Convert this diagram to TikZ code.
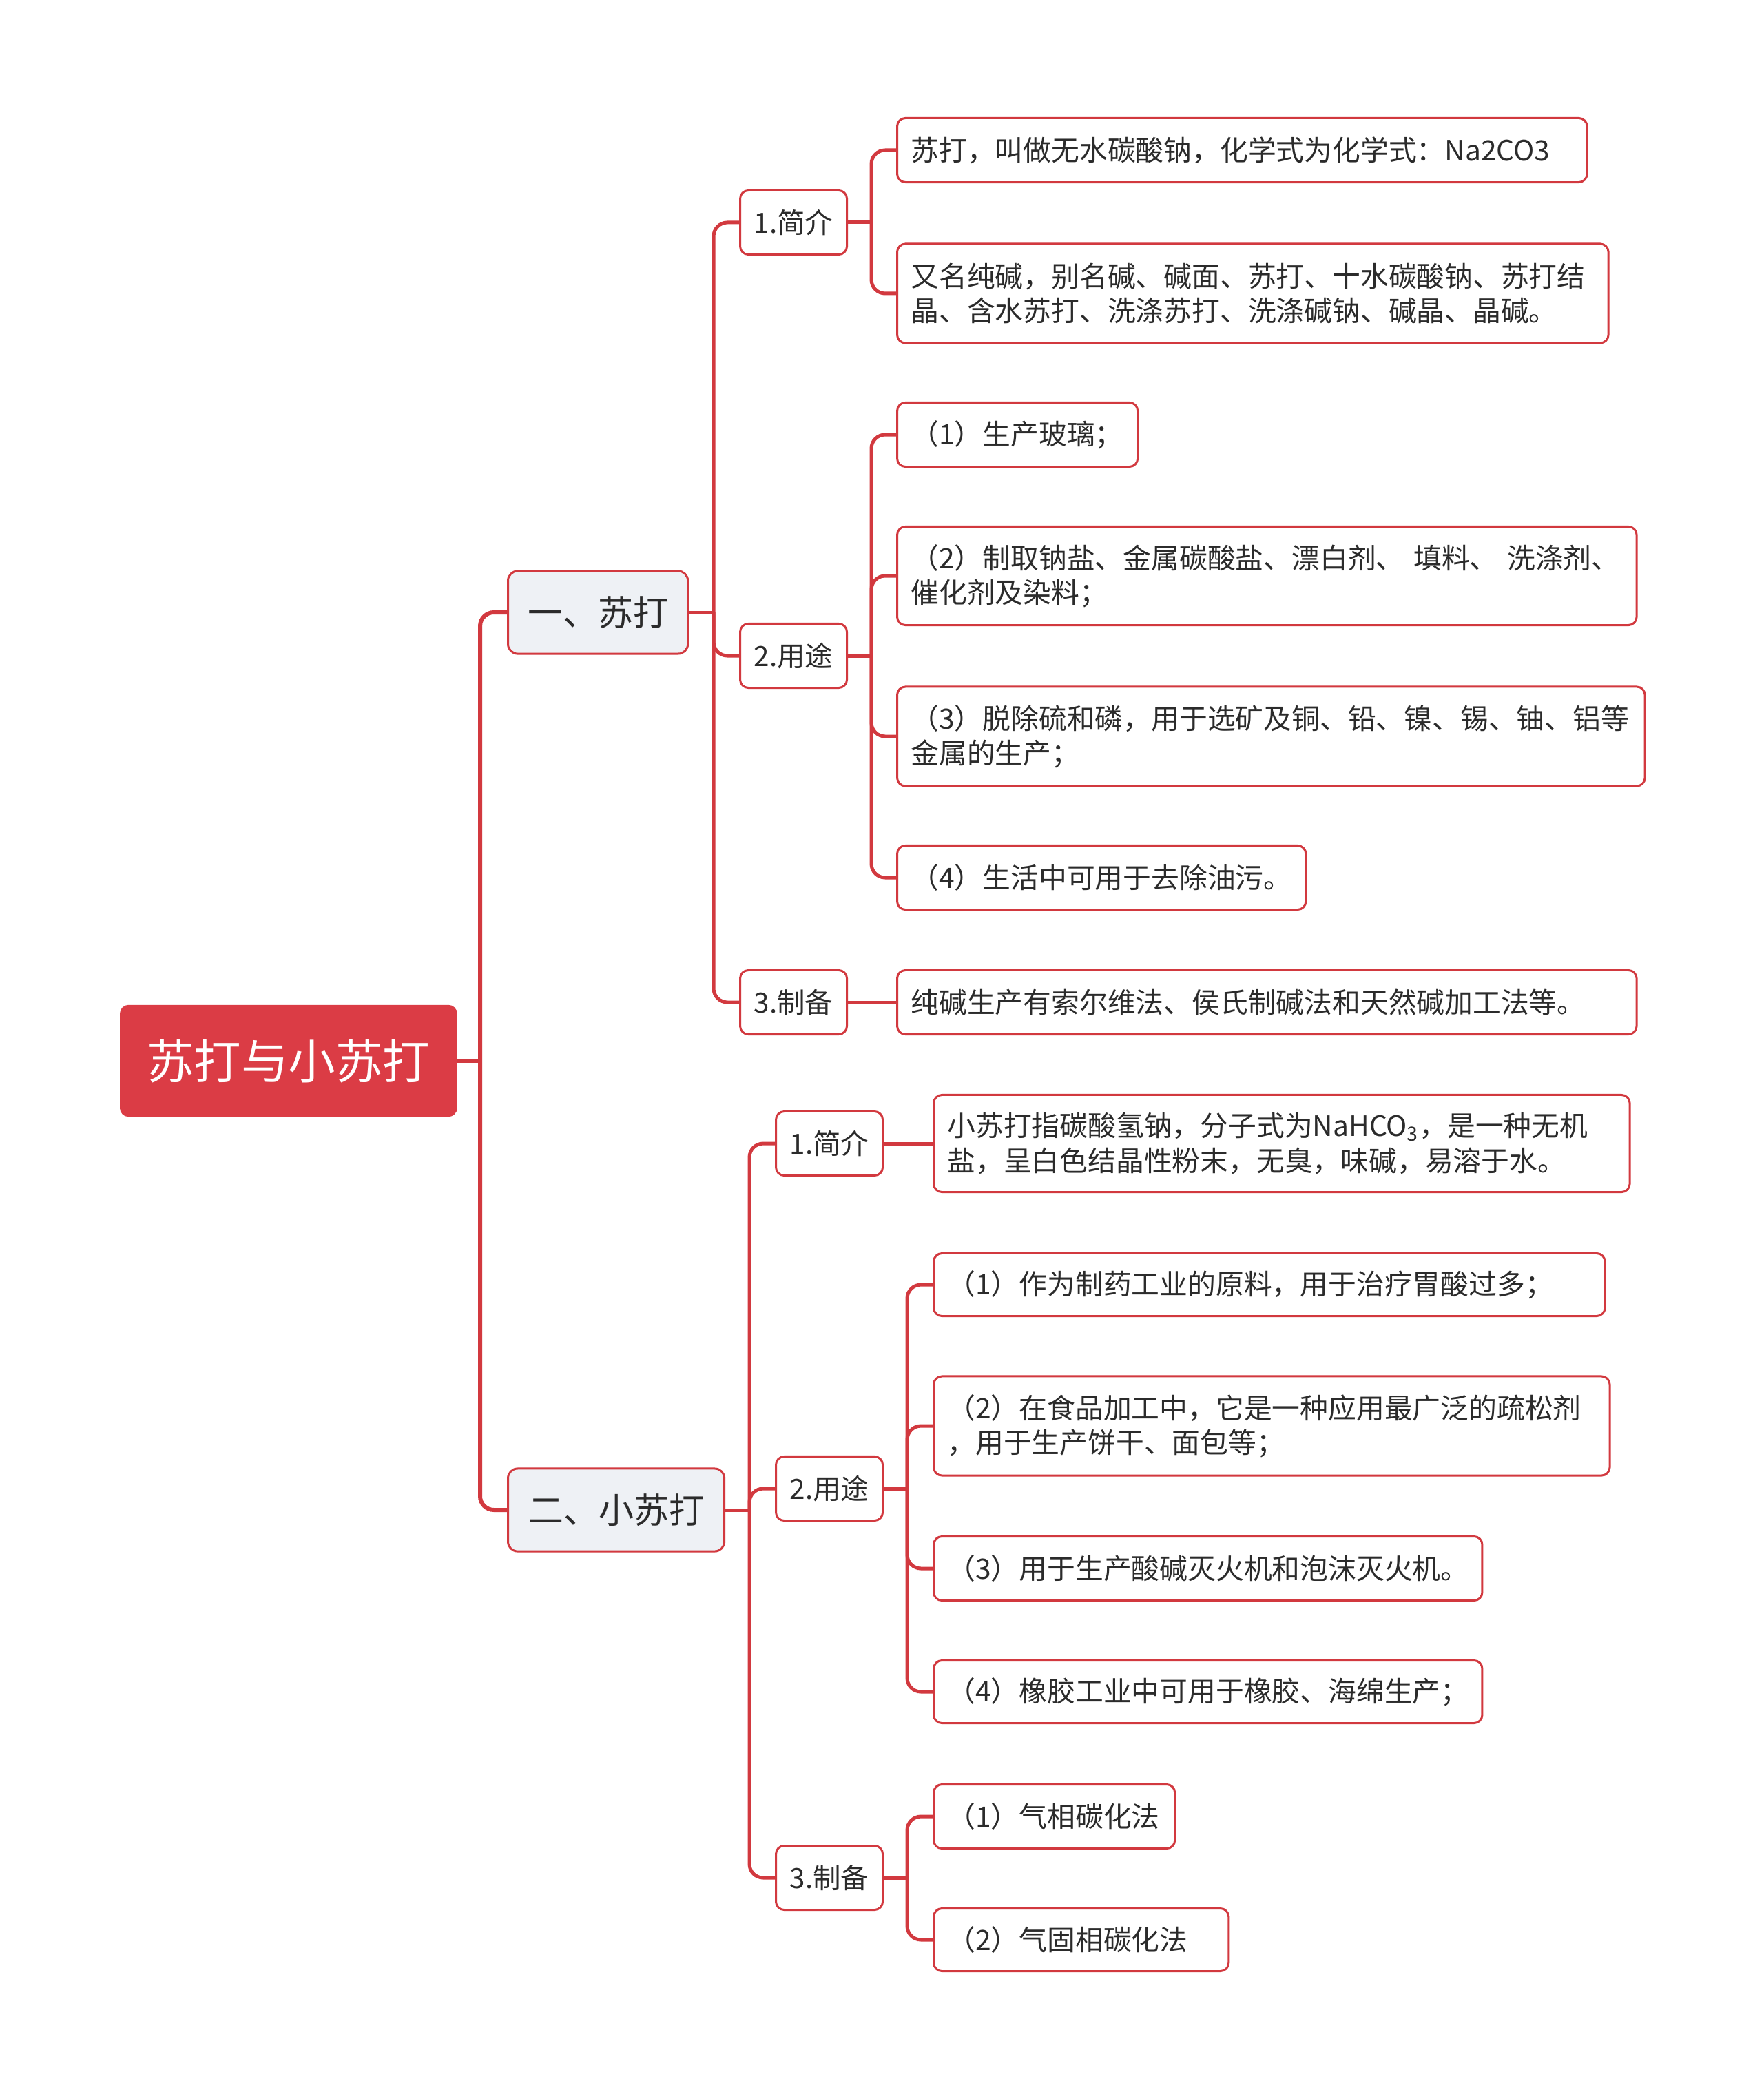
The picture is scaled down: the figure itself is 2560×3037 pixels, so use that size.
\documentclass[tikz,border=0pt]{standalone}
\usepackage{fontspec}
\setmainfont{Noto Sans CJK SC}
\definecolor{rootred}{HTML}{DB3C45}
\definecolor{linered}{HTML}{D2393F}
\definecolor{boxgray}{HTML}{EEF1F5}
\definecolor{textdark}{HTML}{2B2B2B}
\begin{document}
\begin{tikzpicture}[x=0.01cm,y=-0.01cm]
    \tikzset{rootbox/.style = {anchor=west,rounded corners=0.12cm,fill=rootred,draw=rootred,text=white,font=\fontsize{19.5}{23}\selectfont,minimum width=4.88cm,minimum height=1.61cm,inner sep=0pt},
      mainbox/.style = {anchor=west,rounded corners=0.14cm,fill=boxgray,draw=linered,line width=0.03cm,text=textdark,font=\fontsize{14.5}{17}\selectfont,minimum height=1.2cm,inner sep=0pt},
      subbox/.style = {anchor=west,rounded corners=0.12cm,fill=white,draw=linered,line width=0.03cm,text=textdark,font=\fontsize{11.5}{14}\selectfont,minimum width=1.55cm,minimum height=0.93cm,inner sep=0pt},
      leaf/.style = {anchor=west,rounded corners=0.12cm,fill=white,draw=linered,line width=0.03cm,text=textdark,font=\fontsize{11.6}{14.3}\selectfont,align=left,minimum height=0.93cm,inner xsep=0.2cm,inner ysep=0pt,text width=#1},
      edge/.style = {draw=linered,line width=0.05cm},
      elbow/.style = {edge,rounded corners=0.2cm}}
    \useasboundingbox (0,0) rectangle (2560,3037);

    \node[rootbox] (root) at (174,1540) {苏打与小苏打};
    \node[mainbox,minimum width=2.61cm] (m1) at (736,889) {一、苏打};
    \node[mainbox,minimum width=3.14cm] (m2) at (736,2192) {二、小苏打};

    \node[subbox] (a1) at (1073,323) {1.简介};
    \node[subbox] (a2) at (1073,952) {2.用途};
    \node[subbox] (a3) at (1073,1455) {3.制备};
    \node[subbox] (b1) at (1125,1660) {1.简介};
    \node[subbox] (b2) at (1125,2161) {2.用途};
    \node[subbox] (b3) at (1125,2726) {3.制备};

    \node[leaf=9.61cm] (a1x) at (1301,218) {苏打，叫做无水碳酸钠，化学式为化学式：Na2CO3};
    \node[leaf=9.92cm,minimum height=1.44cm] (a1y) at (1301,426) {又名纯碱，别名碱、碱面、苏打、十水碳酸钠、苏打结\\晶、含水苏打、洗涤苏打、洗涤碱钠、碱晶、晶碱。};
    \node[leaf=3.09cm] (a2w) at (1301,631) {（1）生产玻璃；};
    \node[leaf=10.33cm,minimum height=1.43cm] (a2x) at (1301,836) {（2）制取钠盐、金属碳酸盐、漂白剂、 填料、 洗涤剂、\\催化剂及染料；};
    \node[leaf=10.45cm,minimum height=1.44cm] (a2y) at (1301,1069) {（3）脱除硫和磷，用于选矿及铜、铅、镍、锡、铀、铝等\\金属的生产；};
    \node[leaf=5.53cm] (a2z) at (1301,1274) {（4）生活中可用于去除油污。};
    \node[leaf=10.33cm] (a3x) at (1301,1455) {纯碱生产有索尔维法、侯氏制碱法和天然碱加工法等。};

    \node[leaf=9.70cm,minimum height=1.41cm] (b1x) at (1354,1660) {小苏打指碳酸氢钠，分子式为NaHCO\textsubscript{3}，是一种无机\\盐，呈白色结晶性粉末，无臭，味碱，易溶于水。};
    \node[leaf=9.34cm,minimum height=0.91cm] (b2w) at (1354,1865) {（1）作为制药工业的原料，用于治疗胃酸过多；};
    \node[leaf=9.41cm,minimum height=1.44cm] (b2x) at (1354,2070) {（2）在食品加工中，它是一种应用最广泛的疏松剂\\，用于生产饼干、面包等；};
    \node[leaf=7.56cm] (b2y) at (1354,2277) {（3）用于生产酸碱灭火机和泡沫灭火机。};
    \node[leaf=7.56cm,minimum height=0.91cm] (b2z) at (1354,2456) {（4）橡胶工业中可用于橡胶、海绵生产；};
    \node[leaf=3.10cm] (b3w) at (1354,2637) {（1）气相碳化法};
    \node[leaf=3.88cm,minimum height=0.91cm] (b3x) at (1354,2816) {（2）气固相碳化法};

    \coordinate (s0) at (697,1540);
    \coordinate (s1) at (1036,889);
    \coordinate (s2) at (1088,2192);
    \coordinate (t1) at (1265,323);
    \coordinate (t2) at (1265,952);
    \coordinate (t3) at (1317,2161);
    \coordinate (t4) at (1317,2726);

    \draw[edge,line width=0.06cm](root.east) -- (s0);
    \draw[elbow,line width=0.06cm](s0) |- (m1.west);
    \draw[elbow,line width=0.06cm](s0) |- (m2.west);

    \draw[edge](m1.east) -- (s1);
    \draw[elbow](s1) |- (a1.west);
    \draw[elbow](s1) |- (a2.west);
    \draw[elbow](s1) |- (a3.west);
    \draw[edge](m2.east) -- (s2);
    \draw[elbow](s2) |- (b1.west);
    \draw[elbow](s2) |- (b2.west);
    \draw[elbow](s2) |- (b3.west);

    \draw[edge](a1.east) -- (t1);
    \draw[elbow](t1) |- (a1x.west);
    \draw[elbow](t1) |- (a1y.west);
    \draw[edge](a2.east) -- (t2);
    \draw[elbow](t2) |- (a2w.west);
    \draw[elbow](t2) |- (a2x.west);
    \draw[elbow](t2) |- (a2y.west);
    \draw[elbow](t2) |- (a2z.west);
    \draw[edge](a3.east) -- (a3x.west);

    \draw[edge](b1.east) -- (b1x.west);
    \draw[edge](b2.east) -- (t3);
    \draw[elbow](t3) |- (b2w.west);
    \draw[elbow](t3) |- (b2x.west);
    \draw[elbow](t3) |- (b2y.west);
    \draw[elbow](t3) |- (b2z.west);
    \draw[edge](b3.east) -- (t4);
    \draw[elbow](t4) |- (b3w.west);
    \draw[elbow](t4) |- (b3x.west);
\end{tikzpicture}
\end{document}
